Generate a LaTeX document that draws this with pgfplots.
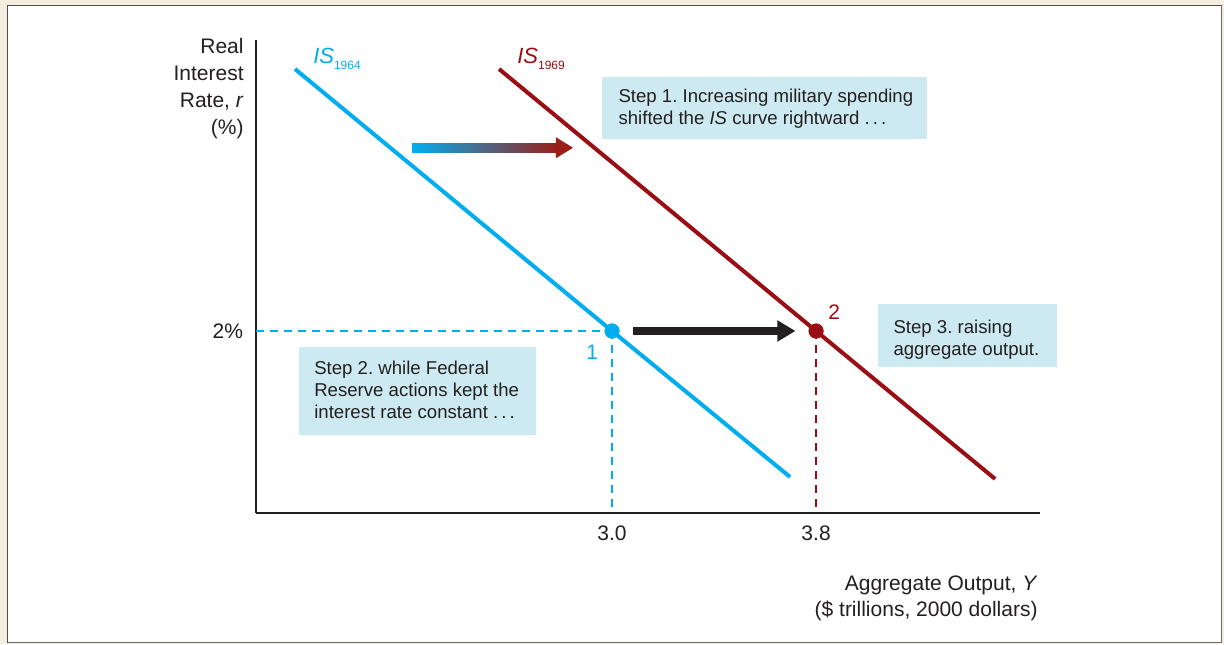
\documentclass[border=0pt]{standalone}
\usepackage{pgfplots}
\pgfplotsset{compat=1.18}
\usepackage{fontspec}
\setmainfont{Liberation Sans}
\frenchspacing

\definecolor{isblue}{HTML}{00AEEF}
\definecolor{isred}{HTML}{9B0D14}
\definecolor{arrred}{HTML}{9A1F1A}
\definecolor{boxblue}{HTML}{CDEAF2}
\definecolor{beige}{HTML}{F3EDDF}
\definecolor{ink}{HTML}{231F20}
\definecolor{frame}{HTML}{6D6A66}

% IS curves (x: $ trillions, y: real interest rate %)
\pgfplotstableread{
x y
1.757 4.879
3.000 2.000
3.698 0.396
}\isold
\pgfplotstableread{
x y
2.557 4.879
3.800 2.000
4.502 0.374
}\isnew

\begin{document}
\begin{tikzpicture}
\useasboundingbox (-128pt,-65.5pt) rectangle (484pt,256.5pt);
\fill[beige] (-128pt,-65.5pt) rectangle (484pt,256.5pt);
\draw[fill=white, draw=frame, line width=0.9pt] (-124.25pt,-64.75pt) rectangle (482.75pt,253.75pt);
\draw[ink!80, line width=0.9pt] (-124.25pt,-64.75pt) -- (-124.25pt,253.75pt) -- (482.75pt,253.75pt);

\begin{axis}[
    scale only axis,
    width=392pt, height=236.5pt,
    xmin=1.604, xmax=4.678, ymin=0, ymax=5.198,
    axis x line=bottom, axis y line=left,
    axis line style={-, draw=ink, line width=1pt},
    xtick={3.0,3.8}, xticklabels={3.0,3.8},
    ytick={2}, yticklabels={2\%},
    major tick length=0pt,
    tick label style={font=\fontsize{10.5}{12}\selectfont, text=ink},
    xticklabel style={yshift=-2.7pt},
    yticklabel style={xshift=-3pt},
    /pgf/number format/assume math mode=true,
    clip=false,
  ]

  % guides at r = 2%
  \addplot[isblue, line width=0.75pt, dash pattern=on 4pt off 3pt] coordinates {(1.604,2) (3.0,2)};
  \addplot[isblue, line width=0.75pt, dash pattern=on 4pt off 3pt] coordinates {(3.0,2) (3.0,0)};
  \addplot[isred, line width=0.75pt, dash pattern=on 4pt off 3pt] coordinates {(3.8,2) (3.8,0)};

  \addplot[isblue, line width=2pt] table {\isold};
  \addplot[isred, line width=2pt] table {\isnew};

  \addplot[only marks, mark=*, mark size=3.6pt, isblue] coordinates {(3.0,2)};
  \addplot[only marks, mark=*, mark size=3.6pt, isred] coordinates {(3.8,2)};

  % shift arrow (gradient)
  \shade[left color=isblue, right color=arrred]
    ([yshift=-2.25pt]axis cs:2.216,4.014) rectangle ([yshift=2.25pt]axis cs:2.782,4.014);
  \fill[arrred] ([yshift=-5.25pt]axis cs:2.780,4.014) -- (axis cs:2.847,4.014)
    -- ([yshift=5.25pt]axis cs:2.780,4.014) -- cycle;

  % output arrow
  \fill[ink] ([yshift=-2.15pt]axis cs:3.081,2) rectangle ([yshift=2.15pt]axis cs:3.650,2);
  \fill[ink] ([yshift=-5.4pt]axis cs:3.648,2) -- (axis cs:3.718,2)
    -- ([yshift=5.4pt]axis cs:3.648,2) -- cycle;

  % curve labels
  \node[anchor=base west, inner sep=0pt, text=isblue, font=\fontsize{11}{12}\selectfont]
    at (axis cs:1.827,4.945) {\textit{IS}\raisebox{-0.55ex}{\fontsize{6}{7}\selectfont 1964}};
  \node[anchor=base west, inner sep=0pt, text=isred, font=\fontsize{11}{12}\selectfont]
    at (axis cs:2.627,4.945) {\textit{IS}\raisebox{-0.55ex}{\fontsize{6}{7}\selectfont 1969}};
  \node[text=isblue, font=\fontsize{10.5}{12}\selectfont] at (axis cs:2.922,1.769) {1};
  \node[text=isred, font=\fontsize{10.5}{12}\selectfont] at (axis cs:3.871,2.210) {2};

  % step boxes
  \fill[boxblue] (axis cs:2.961,4.791) rectangle (axis cs:4.235,4.110);
  \node[anchor=north west, inner sep=0pt, align=left, text=ink,
        font=\fontsize{9.3}{10.8}\selectfont] at (axis cs:3.024,4.659)
    {Step 1. Increasing military spending\\shifted the \textit{IS} curve rightward .\,.\,.};
  \fill[boxblue] (axis cs:1.773,1.824) rectangle (axis cs:2.702,0.857);
  \node[anchor=north west, inner sep=0pt, align=left, text=ink,
        font=\fontsize{9.3}{11}\selectfont] at (axis cs:1.831,1.670)
    {Step 2. while Federal\\Reserve actions kept the\\interest rate constant .\,.\,.};
  \fill[boxblue] (axis cs:4.043,2.297) rectangle (axis cs:4.745,1.604);
  \node[anchor=north west, inner sep=0pt, align=left, text=ink,
        font=\fontsize{9.3}{11}\selectfont] at (axis cs:4.102,2.130)
    {Step 3. raising\\aggregate output.};
\end{axis}

% axis titles
\node[anchor=north east, inner sep=0pt, align=right, text=ink,
      font=\fontsize{10.5}{13.5}\selectfont] at (-6pt,237.5pt)
  {Real\\Interest\\Rate, \textit{r}\\(\%)};
\node[anchor=north east, inner sep=0pt, align=right, text=ink,
      font=\fontsize{10.5}{13}\selectfont] at (391pt,-31pt)
  {Aggregate Output, \textit{Y}\\(\$ trillions, 2000 dollars)};
\end{tikzpicture}
\end{document}
